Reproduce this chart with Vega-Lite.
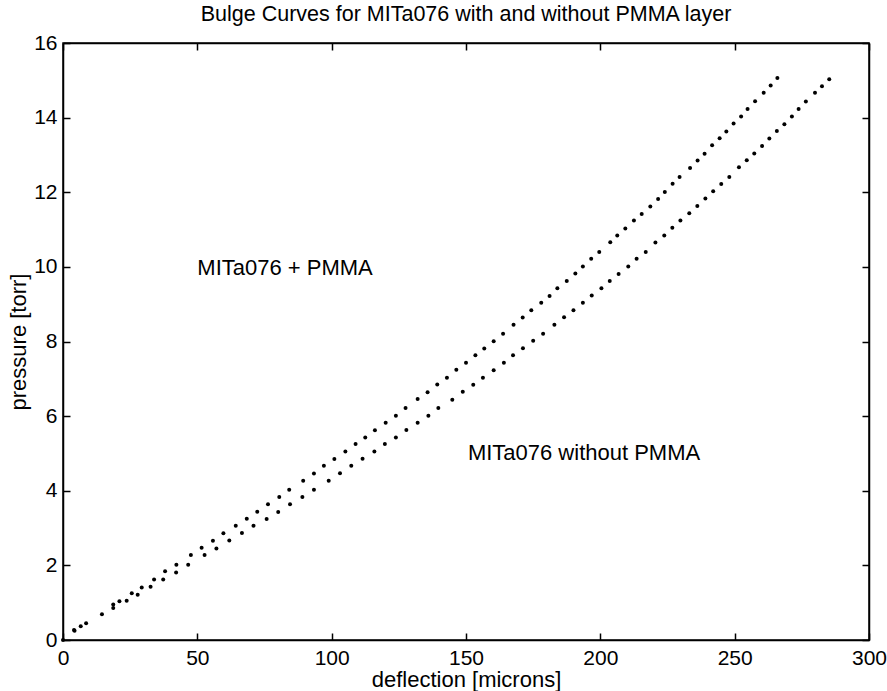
{
  "$schema": "https://vega.github.io/schema/vega-lite/v6.json",
  "autosize": {"type": "none"},
  "width": 806,
  "height": 597,
  "padding": {"left": 63, "top": 43, "right": 18, "bottom": 51},
  "background": "white",
  "title": {"text": "Bulge Curves for MITa076 with and without PMMA layer", "fontSize": 21.5, "fontWeight": "normal", "font": "Liberation Sans", "color": "black", "offset": 7, "anchor": "middle"},
  "config": {
    "view": {"stroke": "black", "strokeWidth": 1.5},
    "font": "Liberation Sans",
    "axis": {"grid": false, "domainColor": "black", "domainWidth": 1.5, "tickColor": "black", "tickWidth": 1.5, "tickSize": -7, "labelPadding": 15, "labelFontSize": 21, "labelColor": "black", "labelFont": "Liberation Sans", "titleFontSize": 22, "titleFontWeight": "normal", "titleColor": "black", "titleFont": "Liberation Sans"}
  },
  "datasets": {
    "pts": [
      {"series": "with PMMA", "d": 0, "p": 0},
      {"series": "with PMMA", "d": 4.1, "p": 0.27},
      {"series": "with PMMA", "d": 8.6, "p": 0.45},
      {"series": "with PMMA", "d": 14.5, "p": 0.69},
      {"series": "with PMMA", "d": 18.7, "p": 0.95},
      {"series": "with PMMA", "d": 21.0, "p": 1.04},
      {"series": "with PMMA", "d": 25.6, "p": 1.25},
      {"series": "with PMMA", "d": 29.3, "p": 1.41},
      {"series": "with PMMA", "d": 33.9, "p": 1.62},
      {"series": "with PMMA", "d": 38.0, "p": 1.84},
      {"series": "with PMMA", "d": 42.2, "p": 2.02},
      {"series": "with PMMA", "d": 47.6, "p": 2.28},
      {"series": "with PMMA", "d": 51.6, "p": 2.47},
      {"series": "with PMMA", "d": 55.8, "p": 2.66},
      {"series": "with PMMA", "d": 59.7, "p": 2.86},
      {"series": "with PMMA", "d": 64.3, "p": 3.06},
      {"series": "with PMMA", "d": 68.4, "p": 3.25},
      {"series": "with PMMA", "d": 72.3, "p": 3.44},
      {"series": "with PMMA", "d": 76.3, "p": 3.64},
      {"series": "with PMMA", "d": 80.5, "p": 3.83},
      {"series": "with PMMA", "d": 84.2, "p": 4.03},
      {"series": "with PMMA", "d": 89.4, "p": 4.27},
      {"series": "with PMMA", "d": 93.4, "p": 4.46},
      {"series": "with PMMA", "d": 97.1, "p": 4.67},
      {"series": "with PMMA", "d": 101.0, "p": 4.85},
      {"series": "with PMMA", "d": 105.1, "p": 5.05},
      {"series": "with PMMA", "d": 108.9, "p": 5.25},
      {"series": "with PMMA", "d": 112.5, "p": 5.43},
      {"series": "with PMMA", "d": 116.1, "p": 5.62},
      {"series": "with PMMA", "d": 120.1, "p": 5.82},
      {"series": "with PMMA", "d": 123.9, "p": 6.01},
      {"series": "with PMMA", "d": 127.5, "p": 6.22},
      {"series": "with PMMA", "d": 132.0, "p": 6.46},
      {"series": "with PMMA", "d": 135.7, "p": 6.64},
      {"series": "with PMMA", "d": 139.3, "p": 6.85},
      {"series": "with PMMA", "d": 142.9, "p": 7.03},
      {"series": "with PMMA", "d": 146.4, "p": 7.24},
      {"series": "with PMMA", "d": 150.0, "p": 7.43},
      {"series": "with PMMA", "d": 153.5, "p": 7.63},
      {"series": "with PMMA", "d": 156.8, "p": 7.81},
      {"series": "with PMMA", "d": 160.3, "p": 8.01},
      {"series": "with PMMA", "d": 163.8, "p": 8.21},
      {"series": "with PMMA", "d": 167.7, "p": 8.45},
      {"series": "with PMMA", "d": 171.1, "p": 8.64},
      {"series": "with PMMA", "d": 174.3, "p": 8.84},
      {"series": "with PMMA", "d": 178.0, "p": 9.04},
      {"series": "with PMMA", "d": 181.1, "p": 9.22},
      {"series": "with PMMA", "d": 184.0, "p": 9.43},
      {"series": "with PMMA", "d": 187.5, "p": 9.62},
      {"series": "with PMMA", "d": 190.7, "p": 9.82},
      {"series": "with PMMA", "d": 193.5, "p": 10.01},
      {"series": "with PMMA", "d": 196.6, "p": 10.22},
      {"series": "with PMMA", "d": 199.6, "p": 10.40},
      {"series": "with PMMA", "d": 203.7, "p": 10.66},
      {"series": "with PMMA", "d": 206.3, "p": 10.84},
      {"series": "with PMMA", "d": 209.3, "p": 11.03},
      {"series": "with PMMA", "d": 212.5, "p": 11.24},
      {"series": "with PMMA", "d": 215.4, "p": 11.42},
      {"series": "with PMMA", "d": 218.6, "p": 11.62},
      {"series": "with PMMA", "d": 221.5, "p": 11.82},
      {"series": "with PMMA", "d": 224.0, "p": 12.01},
      {"series": "with PMMA", "d": 226.9, "p": 12.23},
      {"series": "with PMMA", "d": 229.5, "p": 12.41},
      {"series": "with PMMA", "d": 233.4, "p": 12.65},
      {"series": "with PMMA", "d": 236.2, "p": 12.85},
      {"series": "with PMMA", "d": 238.8, "p": 13.03},
      {"series": "with PMMA", "d": 241.6, "p": 13.26},
      {"series": "with PMMA", "d": 244.4, "p": 13.45},
      {"series": "with PMMA", "d": 246.9, "p": 13.63},
      {"series": "with PMMA", "d": 249.6, "p": 13.84},
      {"series": "with PMMA", "d": 252.4, "p": 14.03},
      {"series": "with PMMA", "d": 254.8, "p": 14.23},
      {"series": "with PMMA", "d": 257.6, "p": 14.44},
      {"series": "with PMMA", "d": 260.8, "p": 14.67},
      {"series": "with PMMA", "d": 263.4, "p": 14.86},
      {"series": "with PMMA", "d": 265.9, "p": 15.06},
      {"series": "without PMMA", "d": 4.3, "p": 0.25},
      {"series": "without PMMA", "d": 6.6, "p": 0.37},
      {"series": "without PMMA", "d": 18.7, "p": 0.86},
      {"series": "without PMMA", "d": 23.7, "p": 1.05},
      {"series": "without PMMA", "d": 27.8, "p": 1.21},
      {"series": "without PMMA", "d": 32.6, "p": 1.43},
      {"series": "without PMMA", "d": 37.3, "p": 1.62},
      {"series": "without PMMA", "d": 42.1, "p": 1.81},
      {"series": "without PMMA", "d": 46.6, "p": 2.02},
      {"series": "without PMMA", "d": 52.7, "p": 2.28},
      {"series": "without PMMA", "d": 57.1, "p": 2.45},
      {"series": "without PMMA", "d": 61.9, "p": 2.67},
      {"series": "without PMMA", "d": 66.6, "p": 2.87},
      {"series": "without PMMA", "d": 70.9, "p": 3.06},
      {"series": "without PMMA", "d": 75.8, "p": 3.24},
      {"series": "without PMMA", "d": 80.1, "p": 3.43},
      {"series": "without PMMA", "d": 84.5, "p": 3.64},
      {"series": "without PMMA", "d": 89.1, "p": 3.83},
      {"series": "without PMMA", "d": 93.4, "p": 4.03},
      {"series": "without PMMA", "d": 98.9, "p": 4.27},
      {"series": "without PMMA", "d": 103.1, "p": 4.47},
      {"series": "without PMMA", "d": 107.3, "p": 4.67},
      {"series": "without PMMA", "d": 111.5, "p": 4.86},
      {"series": "without PMMA", "d": 115.9, "p": 5.05},
      {"series": "without PMMA", "d": 119.8, "p": 5.25},
      {"series": "without PMMA", "d": 123.9, "p": 5.43},
      {"series": "without PMMA", "d": 127.8, "p": 5.63},
      {"series": "without PMMA", "d": 132.0, "p": 5.82},
      {"series": "without PMMA", "d": 136.0, "p": 6.01},
      {"series": "without PMMA", "d": 139.7, "p": 6.22},
      {"series": "without PMMA", "d": 144.9, "p": 6.44},
      {"series": "without PMMA", "d": 148.8, "p": 6.65},
      {"series": "without PMMA", "d": 152.7, "p": 6.84},
      {"series": "without PMMA", "d": 156.3, "p": 7.03},
      {"series": "without PMMA", "d": 160.3, "p": 7.23},
      {"series": "without PMMA", "d": 164.1, "p": 7.43},
      {"series": "without PMMA", "d": 167.5, "p": 7.63},
      {"series": "without PMMA", "d": 171.2, "p": 7.82},
      {"series": "without PMMA", "d": 175.0, "p": 8.02},
      {"series": "without PMMA", "d": 178.7, "p": 8.21},
      {"series": "without PMMA", "d": 182.9, "p": 8.45},
      {"series": "without PMMA", "d": 186.5, "p": 8.65},
      {"series": "without PMMA", "d": 190.0, "p": 8.84},
      {"series": "without PMMA", "d": 193.5, "p": 9.04},
      {"series": "without PMMA", "d": 196.8, "p": 9.23},
      {"series": "without PMMA", "d": 200.4, "p": 9.43},
      {"series": "without PMMA", "d": 203.5, "p": 9.62},
      {"series": "without PMMA", "d": 206.8, "p": 9.81},
      {"series": "without PMMA", "d": 210.4, "p": 10.01},
      {"series": "without PMMA", "d": 213.5, "p": 10.22},
      {"series": "without PMMA", "d": 216.9, "p": 10.40},
      {"series": "without PMMA", "d": 220.5, "p": 10.65},
      {"series": "without PMMA", "d": 223.8, "p": 10.84},
      {"series": "without PMMA", "d": 226.8, "p": 11.05},
      {"series": "without PMMA", "d": 229.8, "p": 11.24},
      {"series": "without PMMA", "d": 233.1, "p": 11.44},
      {"series": "without PMMA", "d": 236.1, "p": 11.63},
      {"series": "without PMMA", "d": 239.1, "p": 11.83},
      {"series": "without PMMA", "d": 242.0, "p": 12.03},
      {"series": "without PMMA", "d": 245.0, "p": 12.22},
      {"series": "without PMMA", "d": 248.0, "p": 12.41},
      {"series": "without PMMA", "d": 251.6, "p": 12.67},
      {"series": "without PMMA", "d": 254.5, "p": 12.86},
      {"series": "without PMMA", "d": 257.3, "p": 13.04},
      {"series": "without PMMA", "d": 260.2, "p": 13.24},
      {"series": "without PMMA", "d": 262.9, "p": 13.44},
      {"series": "without PMMA", "d": 265.7, "p": 13.64},
      {"series": "without PMMA", "d": 268.5, "p": 13.82},
      {"series": "without PMMA", "d": 271.3, "p": 14.03},
      {"series": "without PMMA", "d": 273.8, "p": 14.23},
      {"series": "without PMMA", "d": 276.5, "p": 14.43},
      {"series": "without PMMA", "d": 279.9, "p": 14.67},
      {"series": "without PMMA", "d": 282.5, "p": 14.84},
      {"series": "without PMMA", "d": 285.2, "p": 15.03}
    ],
    "notes": [
      {"d": 50, "p": 9.96, "label": "MITa076 + PMMA"},
      {"d": 150.7, "p": 5.02, "label": "MITa076 without PMMA"}
    ]
  },
  "resolve": {"axis": {"x": "independent", "y": "independent"}},
  "layer": [
    {
      "data": {"name": "pts"},
      "mark": {"type": "point", "filled": true, "color": "black", "size": 16, "opacity": 1},
      "encoding": {
        "x": {"field": "d", "type": "quantitative", "scale": {"domain": [0, 300], "nice": false, "zero": false},
              "axis": {"orient": "bottom", "values": [0, 50, 100, 150, 200, 250, 300], "title": "deflection [microns]", "titlePadding": 1, "labelFlush": false, "labelOverlap": false, "labelPadding": 14}},
        "y": {"field": "p", "type": "quantitative", "scale": {"domain": [0, 16], "nice": false, "zero": false},
              "axis": {"orient": "left", "values": [0, 2, 4, 6, 8, 10, 12, 14, 16], "title": "pressure [torr]", "titlePadding": 3, "labelFlush": false, "labelOverlap": false, "labelPadding": 13}}
      }
    },
    {
      "data": {"name": "notes"},
      "mark": {"type": "text", "align": "left", "baseline": "middle", "fontSize": 22, "font": "Liberation Sans", "color": "black"},
      "encoding": {
        "x": {"field": "d", "type": "quantitative", "scale": {"domain": [0, 300], "nice": false, "zero": false},
              "axis": {"orient": "top", "values": [0, 50, 100, 150, 200, 250, 300], "labels": false, "title": null, "labelPadding": 0}},
        "y": {"field": "p", "type": "quantitative", "scale": {"domain": [0, 16], "nice": false, "zero": false},
              "axis": {"orient": "right", "values": [0, 2, 4, 6, 8, 10, 12, 14, 16], "labels": false, "title": null, "labelPadding": 0}},
        "text": {"field": "label", "type": "nominal"}
      }
    }
  ]
}
